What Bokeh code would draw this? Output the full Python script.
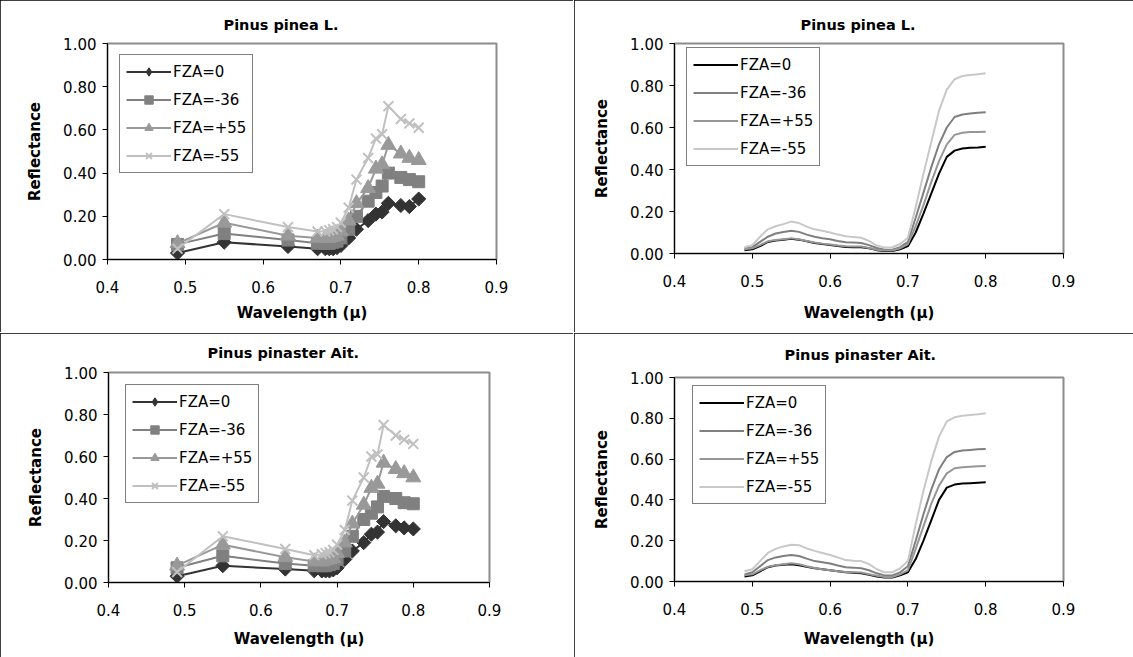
from bokeh.plotting import figure
from bokeh.layouts import column, row
from bokeh.models import FixedTicker, PrintfTickFormatter, Range1d, CDSView, IndexFilter, ColumnDataSource
from bokeh.embed import file_html
from bokeh.resources import INLINE

# ---------------- data ----------------
series_names = ["FZA=0", "FZA=-36", "FZA=+55", "FZA=-55"]

# Left panels: band measurements (markers)
band_wl = [0.49, 0.55, 0.632, 0.67, 0.68, 0.685, 0.69, 0.695, 0.70, 0.71, 0.72,
           0.735, 0.745, 0.753, 0.761, 0.777, 0.788, 0.80]

pinea_bands_0   = [0.03, 0.08, 0.06, 0.05, 0.05, 0.05, 0.05, 0.055, 0.065, 0.10, 0.14,
                   0.18, 0.21, 0.22, 0.26, 0.25, 0.245, 0.28]
pinea_bands_m36 = [0.07, 0.12, 0.09, 0.075, 0.075, 0.075, 0.08, 0.085, 0.10, 0.14, 0.20,
                   0.27, 0.31, 0.34, 0.40, 0.38, 0.37, 0.36]
pinea_bands_p55 = [0.075, 0.17, 0.11, 0.10, 0.10, 0.10, 0.105, 0.11, 0.13, 0.18, 0.26,
                   0.33, 0.42, 0.44, 0.53, 0.49, 0.47, 0.46]
pinea_bands_m55 = [0.05, 0.21, 0.15, 0.13, 0.13, 0.135, 0.14, 0.15, 0.17, 0.24, 0.37,
                   0.47, 0.56, 0.58, 0.71, 0.65, 0.63, 0.61]

pinaster_bands_0   = [0.03, 0.08, 0.064, 0.056, 0.055, 0.055, 0.055, 0.06, 0.07, 0.11, 0.15,
                      0.19, 0.23, 0.24, 0.29, 0.27, 0.26, 0.255]
pinaster_bands_m36 = [0.07, 0.127, 0.09, 0.08, 0.08, 0.08, 0.085, 0.09, 0.11, 0.15, 0.22,
                      0.30, 0.33, 0.36, 0.41, 0.40, 0.38, 0.375]
pinaster_bands_p55 = [0.08, 0.18, 0.12, 0.10, 0.10, 0.105, 0.11, 0.115, 0.14, 0.19, 0.28,
                      0.37, 0.45, 0.47, 0.57, 0.54, 0.52, 0.50]
pinaster_bands_m55 = [0.05, 0.22, 0.16, 0.13, 0.135, 0.14, 0.145, 0.155, 0.18, 0.25, 0.39,
                      0.50, 0.60, 0.61, 0.75, 0.70, 0.68, 0.66]

# Right panels: continuous spectra
spec_wl = [0.49, 0.50, 0.51, 0.52, 0.53, 0.54, 0.55, 0.56, 0.57, 0.58, 0.59, 0.60,
           0.61, 0.62, 0.63, 0.64, 0.65, 0.66, 0.67, 0.68, 0.69, 0.70, 0.71, 0.72,
           0.73, 0.74, 0.75, 0.76, 0.77, 0.78, 0.79, 0.80]

pinea_spec_0   = [0.015, 0.020, 0.035, 0.055, 0.062, 0.066, 0.070, 0.066, 0.058, 0.050, 0.045, 0.041,
                  0.036, 0.031, 0.030, 0.030, 0.025, 0.016, 0.012, 0.012, 0.020, 0.035, 0.100, 0.190,
                  0.285, 0.380, 0.460, 0.490, 0.500, 0.503, 0.505, 0.508]
pinea_spec_m36 = [0.025, 0.030, 0.055, 0.080, 0.095, 0.102, 0.108, 0.103, 0.090, 0.080, 0.073, 0.068,
                  0.060, 0.054, 0.052, 0.050, 0.040, 0.026, 0.018, 0.018, 0.030, 0.055, 0.170, 0.290,
                  0.410, 0.520, 0.600, 0.650, 0.662, 0.667, 0.670, 0.673]
pinea_spec_p55 = [0.020, 0.025, 0.040, 0.058, 0.064, 0.068, 0.072, 0.068, 0.060, 0.052, 0.047, 0.043,
                  0.038, 0.034, 0.033, 0.033, 0.026, 0.018, 0.014, 0.014, 0.025, 0.045, 0.130, 0.230,
                  0.340, 0.440, 0.520, 0.565, 0.575, 0.578, 0.579, 0.580]
pinea_spec_m55 = [0.030, 0.040, 0.080, 0.115, 0.130, 0.140, 0.152, 0.145, 0.128, 0.115, 0.108, 0.100,
                  0.090, 0.082, 0.078, 0.075, 0.060, 0.038, 0.028, 0.030, 0.045, 0.075, 0.220, 0.380,
                  0.530, 0.680, 0.780, 0.830, 0.845, 0.850, 0.854, 0.858]

pinaster_spec_0   = [0.025, 0.030, 0.050, 0.070, 0.078, 0.082, 0.085, 0.080, 0.072, 0.065, 0.060, 0.055,
                     0.050, 0.045, 0.043, 0.040, 0.033, 0.025, 0.020, 0.020, 0.030, 0.045, 0.110, 0.200,
                     0.300, 0.400, 0.460, 0.475, 0.480, 0.482, 0.484, 0.486]
pinaster_spec_m36 = [0.035, 0.045, 0.075, 0.105, 0.118, 0.125, 0.130, 0.125, 0.112, 0.100, 0.094, 0.088,
                     0.078, 0.070, 0.068, 0.065, 0.055, 0.040, 0.030, 0.030, 0.045, 0.075, 0.200, 0.330,
                     0.450, 0.550, 0.610, 0.635, 0.642, 0.645, 0.648, 0.650]
pinaster_spec_p55 = [0.030, 0.035, 0.055, 0.072, 0.080, 0.085, 0.090, 0.085, 0.075, 0.066, 0.060, 0.055,
                     0.050, 0.046, 0.045, 0.044, 0.036, 0.028, 0.022, 0.022, 0.035, 0.055, 0.160, 0.270,
                     0.380, 0.470, 0.530, 0.555, 0.560, 0.563, 0.565, 0.566]
pinaster_spec_m55 = [0.050, 0.060, 0.100, 0.140, 0.160, 0.172, 0.180, 0.178, 0.162, 0.150, 0.140, 0.130,
                     0.118, 0.105, 0.102, 0.100, 0.085, 0.060, 0.045, 0.045, 0.065, 0.100, 0.280, 0.445,
                     0.590, 0.710, 0.785, 0.805, 0.812, 0.816, 0.820, 0.825]

x_ticks = [0.4, 0.5, 0.6, 0.7, 0.8, 0.9]
y_ticks = [0.0, 0.2, 0.4, 0.6, 0.8, 1.0]

titles = ["Pinus pinea L.", "Pinus pinea L.", "Pinus pinaster Ait.", "Pinus pinaster Ait."]
x_label = "Wavelength (\u03bc)"
y_label = "Reflectance"

marker_colors = ["#333333", "#808080", "#999999", "#c0c0c0"]
marker_types = ["diamond", "square", "triangle", "x"]
marker_sizes = [10, 12, 15, 14]
line_colors_right = ["#000000", "#7f7f7f", "#969696", "#c8c8c8"]

FONT = "DejaVu Sans"


def make_fig(width, height, left, right, top, bottom, title, t_offset, t_standoff,
             xl_standoff=9):
    p = figure(width=width, height=height, output_backend="svg", toolbar_location=None,
               x_range=Range1d(0.4, 0.9), y_range=Range1d(0.0, 1.0),
               min_border_left=left, min_border_right=right,
               min_border_top=top, min_border_bottom=bottom)
    p.frame_align = False
    p.xgrid.visible = False
    p.ygrid.visible = False
    p.background_fill_color = "white"
    p.border_fill_color = "white"
    p.outline_line_color = "#8c8c8c"
    p.outline_line_width = 2

    p.title.text = title
    p.title.align = "left"
    p.title.offset = t_offset
    p.title.standoff = t_standoff
    p.title.vertical_align = "top"
    p.title.text_font = FONT
    p.title.text_font_size = "14.5px"
    p.title.text_font_style = "bold"
    p.title.text_color = "black"

    p.xaxis.ticker = FixedTicker(ticks=x_ticks)
    p.yaxis.ticker = FixedTicker(ticks=y_ticks)
    p.xaxis.formatter = PrintfTickFormatter(format="%.1f")
    p.yaxis.formatter = PrintfTickFormatter(format="%.2f")
    for ax in (p.xaxis[0], p.yaxis[0]):
        ax.axis_line_color = "black"
        ax.axis_line_width = 1
        ax.major_tick_line_color = "black"
        ax.major_tick_in = 0
        ax.major_tick_out = 5
        ax.minor_tick_line_color = None
        ax.major_label_text_font = FONT
        ax.major_label_text_font_size = "15px"
        ax.major_label_text_color = "black"
        ax.axis_label_text_font = FONT
        ax.axis_label_text_font_size = "15px"
        ax.axis_label_text_font_style = "bold"
        ax.axis_label_text_color = "black"
    p.xaxis.axis_label = x_label
    p.yaxis.axis_label = y_label
    p.xaxis.major_label_standoff = 16
    p.xaxis.axis_label_standoff = xl_standoff
    p.yaxis.major_label_standoff = 6
    p.yaxis.axis_label_standoff = 16
    p.styles = {"outline": "2px solid black", "outline-offset": "-2px"}
    return p


def style_legend(p, loc):
    lg = p.legend[0]
    lg.location = loc
    lg.border_line_color = "black"
    lg.border_line_width = 1
    lg.background_fill_color = "white"
    lg.background_fill_alpha = 1
    lg.label_text_font = FONT
    lg.label_text_font_size = "15px"
    lg.label_text_color = "black"
    lg.glyph_width = 45
    lg.glyph_height = 21
    lg.label_height = 21
    lg.spacing = 7
    lg.padding = 6
    lg.margin = 0
    lg.label_standoff = 2


def add_band_series(p, ys_list):
    for name, ys, col, mk, sz in zip(series_names, ys_list, marker_colors, marker_types,
                                     marker_sizes):
        src = ColumnDataSource(dict(x=band_wl, y=ys))
        p.line("x", "y", source=src, line_color=col, line_width=2, legend_label=name)
        if mk == "x":
            p.scatter("x", "y", source=src, marker=mk, size=sz, line_color=col, line_width=2,
                      legend_label=name)
        elif mk == "diamond":
            # legend glyph: a diamond for the first point only, hidden under the marker below
            p.scatter("x", "y", source=src, view=CDSView(filter=IndexFilter(indices=[0])),
                      marker="diamond", size=sz, fill_color=col, line_color=col,
                      legend_label=name)
            # drawn in the plot as a 45-degree square (equal diagonals, as in the original)
            p.scatter("x", "y", source=src, marker="square", angle=0.785398, size=sz,
                      fill_color=col, line_color=col)
        else:
            p.scatter("x", "y", source=src, marker=mk, size=sz, fill_color=col,
                      line_color=col, legend_label=name)


def add_spec_series(p, ys_list):
    for name, ys, col in zip(series_names, ys_list, line_colors_right):
        p.line(spec_wl, ys, line_color=col, line_width=2, legend_label=name)


# Top-left   (cell x 0..573, y 0..332)
p1 = make_fig(573, 332, 107, 77, 43, 73, titles[0], 116, 18, xl_standoff=8)
add_band_series(p1, [pinea_bands_0, pinea_bands_m36, pinea_bands_p55, pinea_bands_m55])
style_legend(p1, (12, 86))

# Top-right  (cell x 574..1133)
p2 = make_fig(559, 332, 100, 70, 43, 79, titles[1], 126, 17, xl_standoff=14)
add_spec_series(p2, [pinea_spec_0, pinea_spec_m36, pinea_spec_p55, pinea_spec_m55])
style_legend(p2, (12, 87))

# Bottom-left (cell y 333..657)
p3 = make_fig(573, 324, 108, 84, 39, 75, titles[2], 99, 20, xl_standoff=11)
add_band_series(p3, [pinaster_bands_0, pinaster_bands_m36, pinaster_bands_p55, pinaster_bands_m55])
style_legend(p3, (17, 79))

# Bottom-right
p4 = make_fig(559, 324, 100, 70, 44, 76, titles[3], 110, 25, xl_standoff=12)
add_spec_series(p4, [pinaster_spec_0, pinaster_spec_m36, pinaster_spec_p55, pinaster_spec_m55])
style_legend(p4, (18, 77))

layout = column(row(p1, p2, spacing=1), row(p3, p4, spacing=1), spacing=1)

open("out.html", "w").write(file_html(layout, INLINE))
